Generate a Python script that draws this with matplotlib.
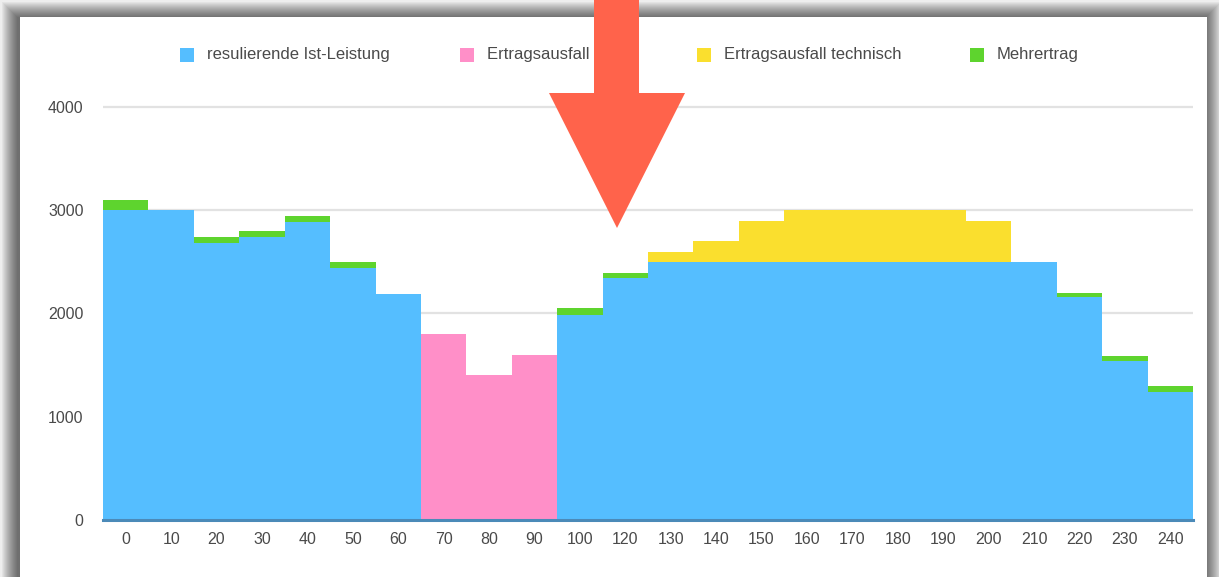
import numpy as np
import matplotlib.pyplot as plt
from matplotlib.patches import Rectangle, Polygon

plt.rcParams['font.family'] = ['Liberation Sans', 'DejaVu Sans']

# Achsenbeschriftung (10er-Schritte, 110 fehlt in der Vorlage)
kategorien = ['0', '10', '20', '30', '40', '50', '60', '70', '80', '90', '100',
              '120', '130', '140', '150', '160', '170', '180', '190', '200',
              '210', '220', '230', '240']

ist_leistung = [3000, 3000, 2680, 2740, 2890, 2440, 2190, 0, 0, 0, 1990, 2340,
                2500, 2500, 2500, 2500, 2500, 2500, 2500, 2500, 2500, 2160, 1540, 1240]
ausfall_netz = [0, 0, 0, 0, 0, 0, 0, 1800, 1400, 1600, 0, 0,
                0, 0, 0, 0, 0, 0, 0, 0, 0, 0, 0, 0]
ausfall_technisch = [0, 0, 0, 0, 0, 0, 0, 0, 0, 0, 0, 0,
                     100, 200, 400, 500, 500, 500, 500, 400, 0, 0, 0, 0]
mehrertrag = [100, 0, 60, 60, 50, 60, 0, 0, 0, 0, 60, 50,
              0, 0, 0, 0, 0, 0, 0, 0, 0, 40, 50, 60]

namen = ['resulierende Ist-Leistung', 'Ertragsausfall Netz',
         'Ertragsausfall technisch', 'Mehrertrag']
farben = ['#55BEFF', '#FF8FC8', '#FADF2E', '#5ED42E']

W, H = 1219, 577
fig = plt.figure(figsize=(W / 100, H / 100), dpi=100)
fig.patch.set_facecolor('#eeeeee')


def px(x, y):
    # Pixel (von oben links) -> Figurkoordinaten
    return x / W, 1 - y / H


# Fenster mit Schatten
pl, pt, pr = 20, 17, 1207
for k in range(16, 0, -1):
    x0, y0 = px(pl - k - 2, H + 20)
    x1, y1 = px(pr + k - 2, pt - k + 1)
    fig.patches.append(Rectangle((x0, y0), x1 - x0, y1 - y0, transform=fig.transFigure,
                                 facecolor='black', edgecolor='none', alpha=0.045, zorder=-10))
x0, y0 = px(pl, H + 20)
x1, y1 = px(pr, pt)
fig.patches.append(Rectangle((x0, y0), x1 - x0, y1 - y0, transform=fig.transFigure,
                             facecolor='white', edgecolor='none', zorder=-5))

# Diagrammfläche
ax = fig.add_axes([103 / W, (H - 520) / H, 1090 / W, 418.2 / H])
ax.set_facecolor('none')

x = np.arange(len(kategorien))
unten = np.zeros(len(kategorien))
for werte, farbe, name in zip([ist_leistung, ausfall_netz, ausfall_technisch, mehrertrag],
                              farben, namen):
    ax.bar(x, werte, width=1.0, bottom=unten, color=farbe, linewidth=0, label=name, zorder=2)
    unten = unten + np.array(werte)

ax.set_xlim(-0.5, len(kategorien) - 0.5)
ax.set_ylim(0, 4050)
ax.set_yticks([0, 1000, 2000, 3000, 4000])
ax.set_xticks(x)
ax.set_xticklabels(kategorien)
ax.yaxis.grid(True, color='#e2e2e2', linewidth=1.6, zorder=0)
ax.set_axisbelow(True)
for s in ['top', 'right', 'left']:
    ax.spines[s].set_visible(False)
ax.spines['bottom'].set_color('#4b8ab8')
ax.spines['bottom'].set_linewidth(2.2)
ax.spines['bottom'].set_zorder(3)
ax.tick_params(axis='y', length=0, pad=14, labelsize=11.5, labelcolor='#4a4a4a')
ax.tick_params(axis='x', length=0, pad=9, labelsize=11.5, labelcolor='#4a4a4a')

# Legende oben
leg_x = [180, 460, 697, 970]
for lx, farbe, name in zip(leg_x, farben, namen):
    x0, y0 = px(lx, 62)
    x1, y1 = px(lx + 14, 48)
    fig.patches.append(Rectangle((x0, y0), x1 - x0, y1 - y0, transform=fig.transFigure,
                                 facecolor=farbe, edgecolor='none', zorder=1))
    tx, ty = px(lx + 27, 55)
    fig.text(tx, ty, name, fontsize=12, color='#4a4a4a', va='center', ha='left')

# roter Pfeil
pfeil = [(594, -5), (639, -5), (639, 93), (685, 93), (617, 228), (549, 93), (594, 93)]
fig.patches.append(Polygon([px(a, b) for a, b in pfeil], closed=True, transform=fig.transFigure,
                           facecolor='#FF634B', edgecolor='none', zorder=20))

fig.savefig('out.png', dpi=100)
